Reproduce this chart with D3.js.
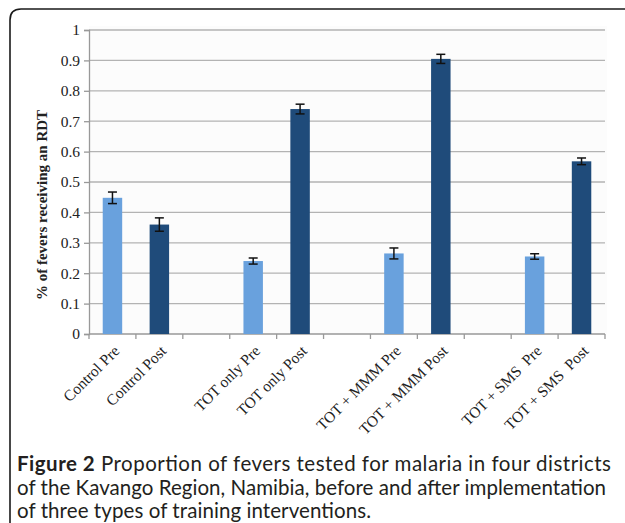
<!DOCTYPE html>
<html>
<head>
<meta charset="utf-8">
<script src="https://cdn.jsdelivr.net/npm/d3@7"></script>
<style>
  html, body { margin: 0; padding: 0; background: #fff; }
  svg { display: block; }
</style>
</head>
<body>
<script>
// ---- data ----
const categories = ["Control Pre", "Control Post", "", "TOT only Pre", "TOT only Post", "", "TOT + MMM Pre", "TOT + MMM Post", "", "TOT + SMS  Pre", "TOT + SMS  Post"];
const phase = ["pre", "post", null, "pre", "post", null, "pre", "post", null, "pre", "post"];
const values = [0.448, 0.360, null, 0.240, 0.740, null, 0.265, 0.905, null, 0.255, 0.568];
const errors = [0.019, 0.022, null, 0.010, 0.016, null, 0.018, 0.015, null, 0.009, 0.011];
const yTicks = [0, 0.1, 0.2, 0.3, 0.4, 0.5, 0.6, 0.7, 0.8, 0.9, 1];
const yTitle = "% of fevers receiving an RDT";
const captionBold = "Figure 2";
const captionLines = [
  " Proportion of fevers tested for malaria in four districts",
  "of the Kavango Region, Namibia, before and after implementation",
  "of three types of training interventions."
];
const colors = { pre: "#69a1dd", post: "#1f4b7a" };

// ---- layout ----
const W = 625, H = 523;
const plot = { left: 89, right: 605, top: 30, bottom: 334 };

const svg = d3.select("body").append("svg").attr("width", W).attr("height", H);

// frame with rounded top-left corner
const fx = 10, fy = 9, r = 11;
svg.append("path")
  .attr("d", `M${fx},${H + 5} L${fx},${fy + r} Q${fx},${fy} ${fx + r},${fy} L${W + 5},${fy}`)
  .attr("fill", "none").attr("stroke", "#1a1a1a").attr("stroke-width", 1.6);

// plot background
svg.append("rect")
  .attr("x", plot.left).attr("y", plot.top - 4)
  .attr("width", plot.right - plot.left + 2).attr("height", plot.bottom - plot.top + 4)
  .attr("fill", "#fcfcfc");

const idx = d3.range(categories.length);
const x = d3.scaleBand().domain(idx).range([plot.left, plot.right])
  .paddingInner(0.585).paddingOuter(0.2925);
const y = d3.scaleLinear().domain([0, 1]).range([plot.bottom, plot.top]);

// gridlines
svg.append("g").selectAll("line").data(yTicks.filter(d => d > 0)).join("line")
  .attr("x1", plot.left).attr("x2", plot.right)
  .attr("y1", d => y(d)).attr("y2", d => y(d))
  .attr("stroke", "#b3b3b3").attr("stroke-width", 1.3);

// y axis
const yAxis = svg.append("g").attr("transform", `translate(${plot.left},0)`)
  .call(d3.axisLeft(y).tickValues(yTicks).tickFormat(d3.format(".1~f")).tickSize(5).tickPadding(4));
yAxis.select(".domain").attr("stroke", "#999").attr("stroke-width", 1.3);
yAxis.selectAll(".tick line").attr("stroke", "#999").attr("stroke-width", 1.3);
yAxis.selectAll("text").attr("font-family", "Liberation Serif, serif").attr("font-size", 15.5).attr("fill", "#222");

// x axis
const step = x.step();
const bounds = idx.map(i => x(i) - step * x.paddingInner() / 2).concat([plot.right]);
const xg = svg.append("g");
xg.append("line").attr("x1", plot.left).attr("x2", plot.right)
  .attr("y1", plot.bottom).attr("y2", plot.bottom)
  .attr("stroke", "#999").attr("stroke-width", 1.3);
xg.selectAll("line.tk").data(bounds).join("line").attr("class", "tk")
  .attr("x1", d => d).attr("x2", d => d)
  .attr("y1", plot.bottom).attr("y2", plot.bottom + 5)
  .attr("stroke", "#999").attr("stroke-width", 1.3);

const xAxis = svg.append("g").attr("transform", `translate(0,${plot.bottom})`)
  .call(d3.axisBottom(x).tickFormat(i => categories[i]).tickSize(0));
xAxis.select(".domain").remove();
xAxis.selectAll("text")
  .attr("font-family", "Liberation Serif, serif").attr("font-size", 15.5).attr("fill", "#222")
  .style("white-space", "pre")
  .attr("text-anchor", "end")
  .attr("x", 0).attr("y", 0).attr("dy", 0)
  .attr("transform", "translate(8,18) rotate(-45)");

// bars
const data = idx.filter(i => values[i] != null);
svg.append("g").selectAll("rect").data(data).join("rect")
  .attr("x", i => x(i)).attr("width", x.bandwidth())
  .attr("y", i => y(values[i])).attr("height", i => y(0) - y(values[i]))
  .attr("fill", i => colors[phase[i]]);

// error bars
const eg = svg.append("g").attr("stroke", "#111").attr("stroke-width", 1.5);
data.forEach(i => {
  const cx = x(i) + x.bandwidth() / 2;
  const y1 = y(values[i] + errors[i]), y2 = y(values[i] - errors[i]);
  eg.append("line").attr("x1", cx).attr("x2", cx).attr("y1", y1).attr("y2", y2);
  eg.append("line").attr("x1", cx - 4.5).attr("x2", cx + 4.5).attr("y1", y1).attr("y2", y1);
  eg.append("line").attr("x1", cx - 4.5).attr("x2", cx + 4.5).attr("y1", y2).attr("y2", y2);
});

// y title
svg.append("text")
  .attr("transform", "translate(47,205) rotate(-90)")
  .attr("text-anchor", "middle")
  .attr("font-family", "Liberation Serif, serif").attr("font-weight", "bold")
  .attr("font-size", 15).attr("fill", "#222")
  .text(yTitle);

// caption (line widths taken from the reference layout)
const capFont = "Lato, sans-serif";
const cap = svg.append("g").attr("font-family", capFont).attr("fill", "#231f20").attr("font-size", 20.5);
const l1 = cap.append("text").attr("x", 17).attr("y", 471).style("white-space", "pre")
  .attr("textLength", 594).attr("lengthAdjust", "spacing");
l1.append("tspan").attr("font-weight", "bold").text(captionBold);
l1.append("tspan").text(captionLines[0]);
cap.append("text").attr("x", 17).attr("y", 495).text(captionLines[1])
  .attr("textLength", 589).attr("lengthAdjust", "spacing");
cap.append("text").attr("x", 17).attr("y", 518).text(captionLines[2])
  .attr("textLength", 354).attr("lengthAdjust", "spacing");
</script>
</body>
</html>
